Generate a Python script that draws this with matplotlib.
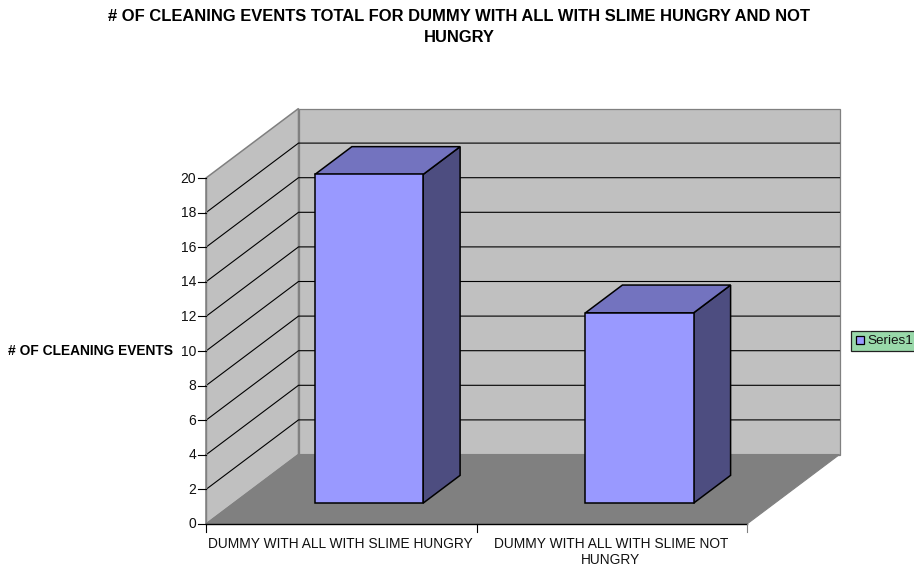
import matplotlib
matplotlib.use('Agg')
import matplotlib.pyplot as plt
from matplotlib.patches import Polygon, Rectangle

plt.rcParams['font.family'] = ['Liberation Sans', 'DejaVu Sans']

title_lines = ['# OF CLEANING EVENTS TOTAL FOR DUMMY WITH ALL WITH SLIME HUNGRY AND NOT', 'HUNGRY']
ylabel = '# OF CLEANING EVENTS'
categories = [['DUMMY WITH ALL WITH SLIME HUNGRY'], ['DUMMY WITH ALL WITH SLIME NOT', 'HUNGRY']]
values = [19, 11]
yticks = [0, 2, 4, 6, 8, 10, 12, 14, 16, 18, 20]
series_name = 'Series1'

# box of the 3d plot, in figure pixels
X0 = 206
Y0 = 524
CAT_W = 270.5
UNIT = 17.3
DX = 92.5
DY = -69.5


def project(cat, val, depth=0.0):
    # cat: category units, val: axis units, depth: 0 front .. 1 back
    return X0 + cat * CAT_W + depth * DX, Y0 - val * UNIT + depth * DY


def face(ax, corners, color, edge='k', lw=1.1, z=2):
    pts = [project(*c) for c in corners]
    ax.add_patch(Polygon(pts, closed=True, facecolor=color, edgecolor=edge,
                         linewidth=lw, joinstyle='miter', zorder=z))


fig = plt.figure(figsize=(9.14, 5.69), dpi=100)
ax = fig.add_axes([0, 0, 1, 1])
ax.set_xlim(0, 914)
ax.set_ylim(569, 0)
ax.axis('off')

n = len(categories)
top = yticks[-1]

# walls and floor
face(ax, [(0, 0, 0), (0, 0, 1), (0, top, 1), (0, top, 0)], '#c0c0c0', '#808080')
face(ax, [(0, 0, 1), (n, 0, 1), (n, top, 1), (0, top, 1)], '#c0c0c0', '#808080', lw=0.9)
face(ax, [(0, 0, 0), (n, 0, 0), (n, 0, 1), (0, 0, 1)], '#808080', '#808080', lw=0.8)

# gridlines on both walls
for v in yticks[1:-1]:
    x1, y1 = project(0, v, 0)
    x2, y2 = project(0, v, 1)
    x3, y3 = project(n, v, 1)
    ax.plot([x1, x2, x3], [y1, y2, y3], color='k', lw=0.8, zorder=3,
            solid_joinstyle='miter')

# y axis line and ticks
ax.plot(*zip(project(0, 0), project(0, top)), color='#808080', lw=1, zorder=3)
for v in yticks:
    x, y = project(0, v)
    ax.plot([x - 8, x], [y, y], color='k', lw=0.8, zorder=3)
    ax.text(x - 10, y + 0.5, str(v), ha='right', va='center', fontsize=10, color='#111111')

# x axis line and ticks
ax.plot(*zip(project(0, 0), project(n, 0)), color='k', lw=1, zorder=3)
for i in range(n + 1):
    x, y = project(i, 0)
    ax.plot([x, x], [y, y + 8], color='k' if i < n else '#808080', lw=0.8, zorder=3)

for i, lines in enumerate(categories):
    x, y = project(i + 0.5, 0)
    for j, line in enumerate(lines):
        ax.text(x - 1, y + 24 + j * 16, line, ha='center', va='baseline', fontsize=9.9,
                color='#111111')

# columns
for i, v in enumerate(values):
    left = i + 0.3
    right = i + 0.7
    face(ax, [(right, 0, 0.3), (right, 0, 0.7), (right, v, 0.7), (right, v, 0.3)],
         '#4d4d80', z=4)
    face(ax, [(left, v, 0.3), (right, v, 0.3), (right, v, 0.7), (left, v, 0.7)],
         '#7373bf', z=4)
    face(ax, [(left, 0, 0.3), (right, 0, 0.3), (right, v, 0.3), (left, v, 0.3)],
         '#9999ff', z=5)

# titles
for j, line in enumerate(title_lines):
    ax.text(459.5, 21 + j * 21, line, ha='center', va='baseline', fontsize=11.9,
            fontweight='bold', color='k')
ax.text(172.5, 351, ylabel, ha='right', va='center', fontsize=9.9, fontweight='bold',
        color='k')

# legend box
ax.add_patch(Rectangle((850.5, 330.5), 70, 20, facecolor='#99d9aa', edgecolor='#222222',
                       linewidth=0.9, zorder=2))
ax.add_patch(Rectangle((855.5, 336), 8, 8, facecolor='#9999ff', edgecolor='k',
                       linewidth=0.9, zorder=3))
ax.text(867, 341, series_name, ha='left', va='center', fontsize=9.7, color='#111111', zorder=3)

fig.savefig('out.png', dpi=100, facecolor='white')
